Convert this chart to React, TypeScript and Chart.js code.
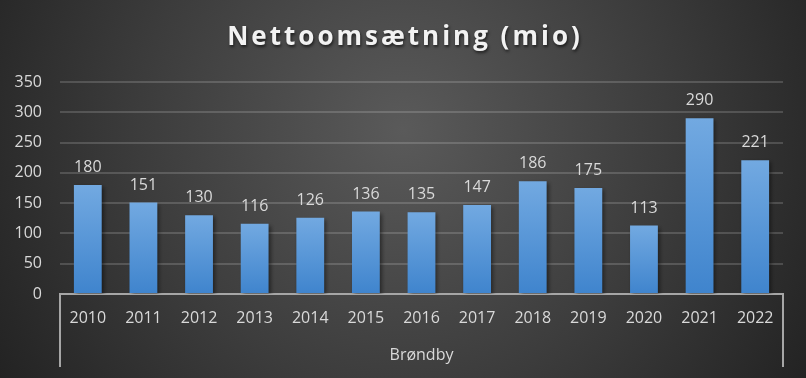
import React, { useEffect, useRef } from "react";
import { Chart, registerables } from "chart.js";

Chart.register(...registerables);

const categories = ["2010", "2011", "2012", "2013", "2014", "2015", "2016", "2017", "2018", "2019", "2020", "2021", "2022"];
const values = [180, 151, 130, 116, 126, 136, 135, 147, 186, 175, 113, 290, 221];
const groupLabels = ["Brøndby"];
const titleText = "Nettoomsætning (mio)";
const yMin = 0;
const yMax = 350;
const yStep = 50;

const FONT = "'Open Sans', 'Noto Sans', sans-serif";

const decorPlugin = {
  id: "decor",
  beforeDraw(chart: any) {
    const { ctx, width, height } = chart;
    ctx.save();
    const g = ctx.createRadialGradient(width / 2, 130, 0, width / 2, 130, 480);
    g.addColorStop(0, "#5a5a5a");
    g.addColorStop(0.55, "#3c3c3c");
    g.addColorStop(1, "#222222");
    ctx.fillStyle = g;
    ctx.fillRect(0, 0, width, height);
    ctx.restore();
  },
  beforeDatasetsDraw(chart: any) {
    const { ctx } = chart;
    ctx.save();
    ctx.shadowColor = "rgba(0,0,0,0.45)";
    ctx.shadowBlur = 4;
    ctx.shadowOffsetX = 2;
    ctx.shadowOffsetY = 2;
  },
  afterDatasetsDraw(chart: any) {
    const { ctx } = chart;
    ctx.restore();
    const meta = chart.getDatasetMeta(0);
    ctx.save();
    ctx.fillStyle = "#d9d9d9";
    ctx.font = `16px ${FONT}`;
    ctx.textAlign = "center";
    ctx.textBaseline = "alphabetic";
    meta.data.forEach((bar: any, i: number) => {
      ctx.fillText(String(values[i]), bar.x, bar.y - 13);
    });
    ctx.restore();
  },
  afterDraw(chart: any) {
    const { ctx, chartArea, width } = chart;
    ctx.save();
    // group bracket
    ctx.strokeStyle = "#a6a6a6";
    ctx.lineWidth = 2;
    ctx.beginPath();
    ctx.moveTo(chartArea.left, chartArea.bottom);
    ctx.lineTo(chartArea.left, 367);
    ctx.moveTo(chartArea.right, chartArea.bottom);
    ctx.lineTo(chartArea.right, 367);
    ctx.stroke();
    ctx.fillStyle = "#d9d9d9";
    ctx.font = `16px ${FONT}`;
    ctx.textAlign = "center";
    ctx.textBaseline = "middle";
    ctx.fillText(groupLabels[0], (chartArea.left + chartArea.right) / 2, 355);
    // title
    ctx.font = `bold 26px ${FONT}`;
    (ctx as any).letterSpacing = "3px";
    ctx.fillStyle = "#f2f2f2";
    ctx.shadowColor = "rgba(0,0,0,0.6)";
    ctx.shadowBlur = 3;
    ctx.shadowOffsetX = 1;
    ctx.shadowOffsetY = 2;
    ctx.fillText(titleText, width / 2 + 2, 38);
    ctx.restore();
  },
};

export default function App() {
  const ref = useRef<HTMLCanvasElement>(null);
  useEffect(() => {
    document.body.style.margin = "0";
    const canvas = ref.current!;
    const chart = new Chart(canvas, {
      type: "bar",
      data: {
        labels: categories,
        datasets: [
          {
            data: values,
            backgroundColor: (c: any) => {
              const ch = c.chart;
              if (!ch.chartArea || c.dataIndex === undefined) return "#5b9bd5";
              const y = ch.scales.y.getPixelForValue(values[c.dataIndex]);
              const b = ch.scales.y.getPixelForValue(0);
              const g = ch.ctx.createLinearGradient(0, y, 0, b);
              g.addColorStop(0, "#72a9e1");
              g.addColorStop(1, "#3f84cd");
              return g;
            },
            borderWidth: 0,
            barPercentage: 0.5,
            categoryPercentage: 1,
          },
        ],
      },
      options: {
        animation: false,
        responsive: true,
        maintainAspectRatio: false,
        layout: { padding: { top: 82, right: 23, left: 0, bottom: 0 } },
        plugins: {
          legend: { display: false },
          title: { display: false },
          tooltip: { enabled: false },
        },
        scales: {
          x: {
            grid: { display: false, drawTicks: false },
            border: { display: true, color: "#a6a6a6", width: 2 },
            ticks: { color: "#d9d9d9", font: { family: FONT, size: 16 }, padding: 15, maxRotation: 0 },
            afterFit: (s: any) => {
              s.height = 84;
            },
          },
          y: {
            min: yMin,
            max: yMax,
            grid: { color: "rgba(255,255,255,0.16)", lineWidth: 2, drawTicks: false },
            border: { display: false },
            ticks: { stepSize: yStep, color: "#d9d9d9", font: { family: FONT, size: 16 }, padding: 18 },
            afterFit: (s: any) => {
              s.width = 60;
            },
          },
        },
      },
      plugins: [decorPlugin],
    });
    return () => chart.destroy();
  }, []);
  return (
    <div style={{ width: 806, height: 378, position: "relative" }}>
      <canvas ref={ref} />
    </div>
  );
}
